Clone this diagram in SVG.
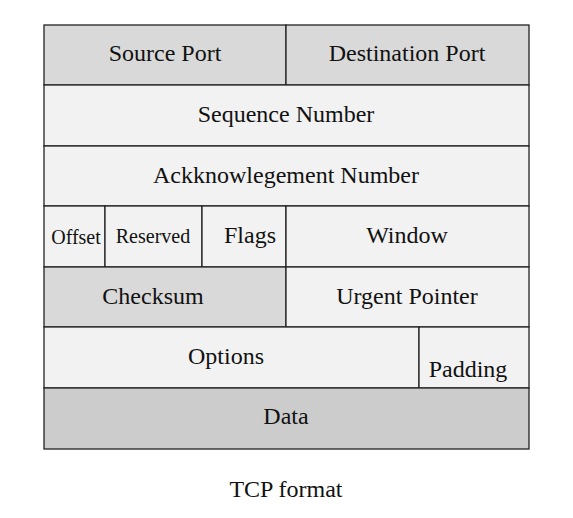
<svg xmlns="http://www.w3.org/2000/svg" width="573" height="518" viewBox="0 0 573 518">
<style>
.c{stroke:#222;stroke-width:1.3}
.h{fill:#d9d9d9}
.l{fill:#f2f2f2}
.d{fill:#cccccc}
text{font-family:"Liberation Serif","Times New Roman",serif;font-size:24px;fill:#111;text-anchor:middle}
.s{font-size:20px}
</style>
<rect width="573" height="518" fill="#fff"/>
<g id="source-port"><rect class="c h" x="44" y="25" width="242" height="60"/><text x="165" y="61">Source Port</text></g>
<g id="destination-port"><rect class="c h" x="286" y="25" width="243" height="60"/><text x="407" y="61">Destination Port</text></g>
<g id="sequence-number"><rect class="c l" x="44" y="85" width="485" height="61"/><text x="286" y="122">Sequence Number</text></g>
<g id="ack-number"><rect class="c l" x="44" y="146" width="485" height="60"/><text x="286" y="183">Ackknowlegement Number</text></g>
<g id="offset"><rect class="c l" x="44" y="206" width="61" height="61"/><text class="s" x="76" y="244">Offset</text></g>
<g id="reserved"><rect class="c l" x="105" y="206" width="97" height="61"/><text class="s" x="153" y="243">Reserved</text></g>
<g id="flags"><rect class="c l" x="202" y="206" width="84" height="61"/><text x="250" y="243">Flags</text></g>
<g id="window"><rect class="c l" x="286" y="206" width="243" height="61"/><text x="407" y="243">Window</text></g>
<g id="checksum"><rect class="c h" x="44" y="267" width="242" height="60"/><text x="153" y="304">Checksum</text></g>
<g id="urgent-pointer"><rect class="c l" x="286" y="267" width="243" height="60"/><text x="407" y="304">Urgent Pointer</text></g>
<g id="options"><rect class="c l" x="44" y="327" width="375" height="61"/><text x="226" y="364">Options</text></g>
<g id="padding"><rect class="c l" x="419" y="327" width="110" height="61"/><text x="468" y="377">Padding</text></g>
<g id="data"><rect class="c d" x="44" y="388" width="485" height="61"/><text x="286" y="424">Data</text></g>
<g id="connectors"></g>
<text x="286" y="497">TCP format</text>
</svg>
